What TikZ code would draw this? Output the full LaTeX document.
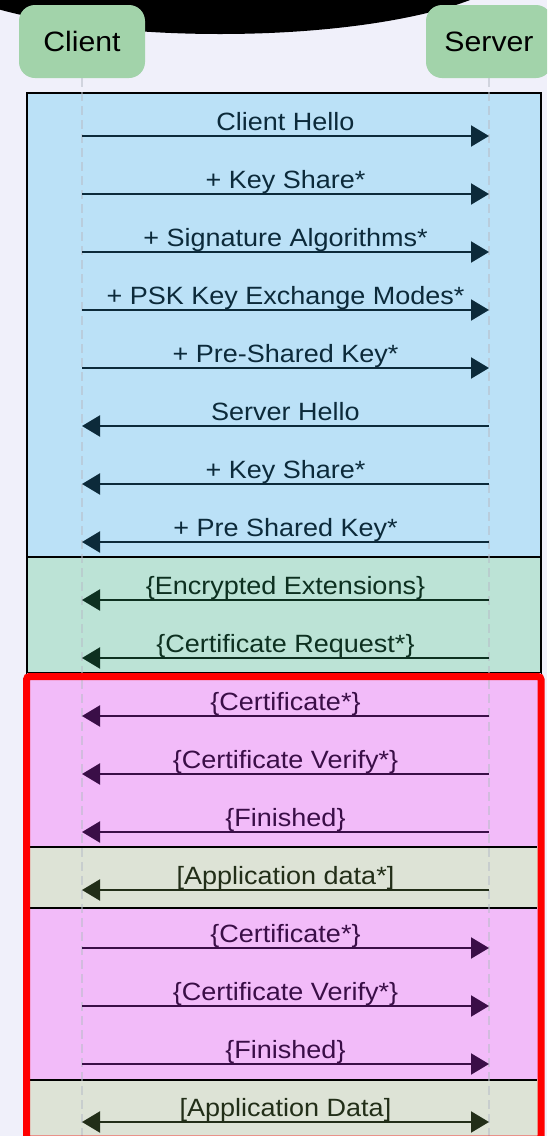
\documentclass[tikz,border=0pt]{standalone}
\usepackage{fontspec}
\setmainfont[FakeStretch=1.08]{Liberation Sans}
\usetikzlibrary{arrows.meta}

\definecolor{paper}{HTML}{F0F0FA}
\definecolor{actorgreen}{HTML}{A2D3AA}
\definecolor{bluefill}{HTML}{BBE1F7}
\definecolor{blueink}{HTML}{0C2A3A}
\definecolor{greenfill}{HTML}{BCE3D6}
\definecolor{greenink}{HTML}{0D3020}
\definecolor{pinkfill}{HTML}{F2BBF9}
\definecolor{pinkink}{HTML}{3A0E47}
\definecolor{sagefill}{HTML}{DDE3D6}
\definecolor{sageink}{HTML}{222E18}
\definecolor{lifegray}{HTML}{B8BEC8}

\begin{document}
\begin{tikzpicture}[x=1pt, y=-1pt,
    every node/.style={font=\fontsize{25}{30}\selectfont},
    actor/.style={fill=actorgreen, rounded corners=16pt, minimum width=126pt,
      minimum height=73pt, font=\fontsize{28}{32}\selectfont},
    lifeline/.style={draw=lifegray, line width=2.5pt, opacity=0.55,
      dash pattern=on 9pt off 5pt},
    msg/.style={line width=2.2pt, -{Triangle[length=18pt,width=21pt]}},
    both/.style={line width=2.2pt,
      {Triangle[length=18pt,width=21pt]}-{Triangle[length=18pt,width=21pt]}},
    lbl/.style={anchor=base, yshift=6pt, inner sep=0pt},
    rule/.style={line width=2pt}]
  \useasboundingbox (0,0) rectangle (547,1136);
  \clip (0,0) rectangle (547,1136);
  \fill[paper] (0,0) rectangle (547,1136);

  % dark blob along the top edge
  \fill[black] (220,-42) ellipse [x radius=300, y radius=76];

  % message blocks
  \filldraw[fill=bluefill, rule] (27,93) rectangle (541,557);
  \filldraw[fill=greenfill, rule] (27,557) rectangle (541,673);
  \fill[pinkfill] (27,673) rectangle (541,847);
  \fill[sagefill] (27,847) rectangle (541,908);
  \fill[pinkfill] (27,908) rectangle (541,1080);
  \fill[sagefill] (27,1080) rectangle (541,1140);
  \foreach \y in {847,908,1080}
    \draw[rule] (30,\y) -- (537,\y);

  % participants and their lifelines
  \node[actor] (client) at (82,41.5) {Client};
  \node[actor] (server) at (489,41.5) {Server};
  \coordinate (cend) at (82,1136);
  \coordinate (send) at (489,1136);
  \draw[lifeline] (client.south) -- (cend);
  \draw[lifeline] (server.south) -- (send);

  % one row every 58 units
  \foreach \i in {1,...,18} {
    \coordinate (c\i) at (82,{136+(\i-1)*58});
    \coordinate (s\i) at (489,{136+(\i-1)*58});
  }

  \foreach \i/\txt in {1/Client Hello, 2/+ Key Share*,
      3/+ Signature Algorithms*, 4/+ PSK Key Exchange Modes*,
      5/+ Pre-Shared Key*}
    \draw[msg, draw=blueink, blueink] (c\i) -- node[lbl] {\txt} (s\i);
  \foreach \i/\txt in {6/Server Hello, 7/+ Key Share*, 8/+ Pre Shared Key*}
    \draw[msg, draw=blueink, blueink] (s\i) -- node[lbl] {\txt} (c\i);

  \foreach \i/\txt in {9/\{Encrypted Extensions\}, 10/\{Certificate Request*\}}
    \draw[msg, draw=greenink, greenink] (s\i) -- node[lbl] {\txt} (c\i);

  \foreach \i/\txt in {11/\{Certificate*\}, 12/\{Certificate Verify*\},
      13/\{Finished\}}
    \draw[msg, draw=pinkink, pinkink] (s\i) -- node[lbl] {\txt} (c\i);

  \draw[msg, draw=sageink, sageink] (s14) -- node[lbl] {[Application data*]} (c14);

  \foreach \i/\txt in {15/\{Certificate*\}, 16/\{Certificate Verify*\},
      17/\{Finished\}}
    \draw[msg, draw=pinkink, pinkink] (c\i) -- node[lbl] {\txt} (s\i);

  \draw[both, draw=sageink, sageink] (c18) -- node[lbl] {[Application Data]} (s18);

  % highlighted part of the handshake
  \draw[red, line width=7pt, rounded corners=3pt]
    (26.5,676.5) rectangle (541,1139);
\end{tikzpicture}
\end{document}
